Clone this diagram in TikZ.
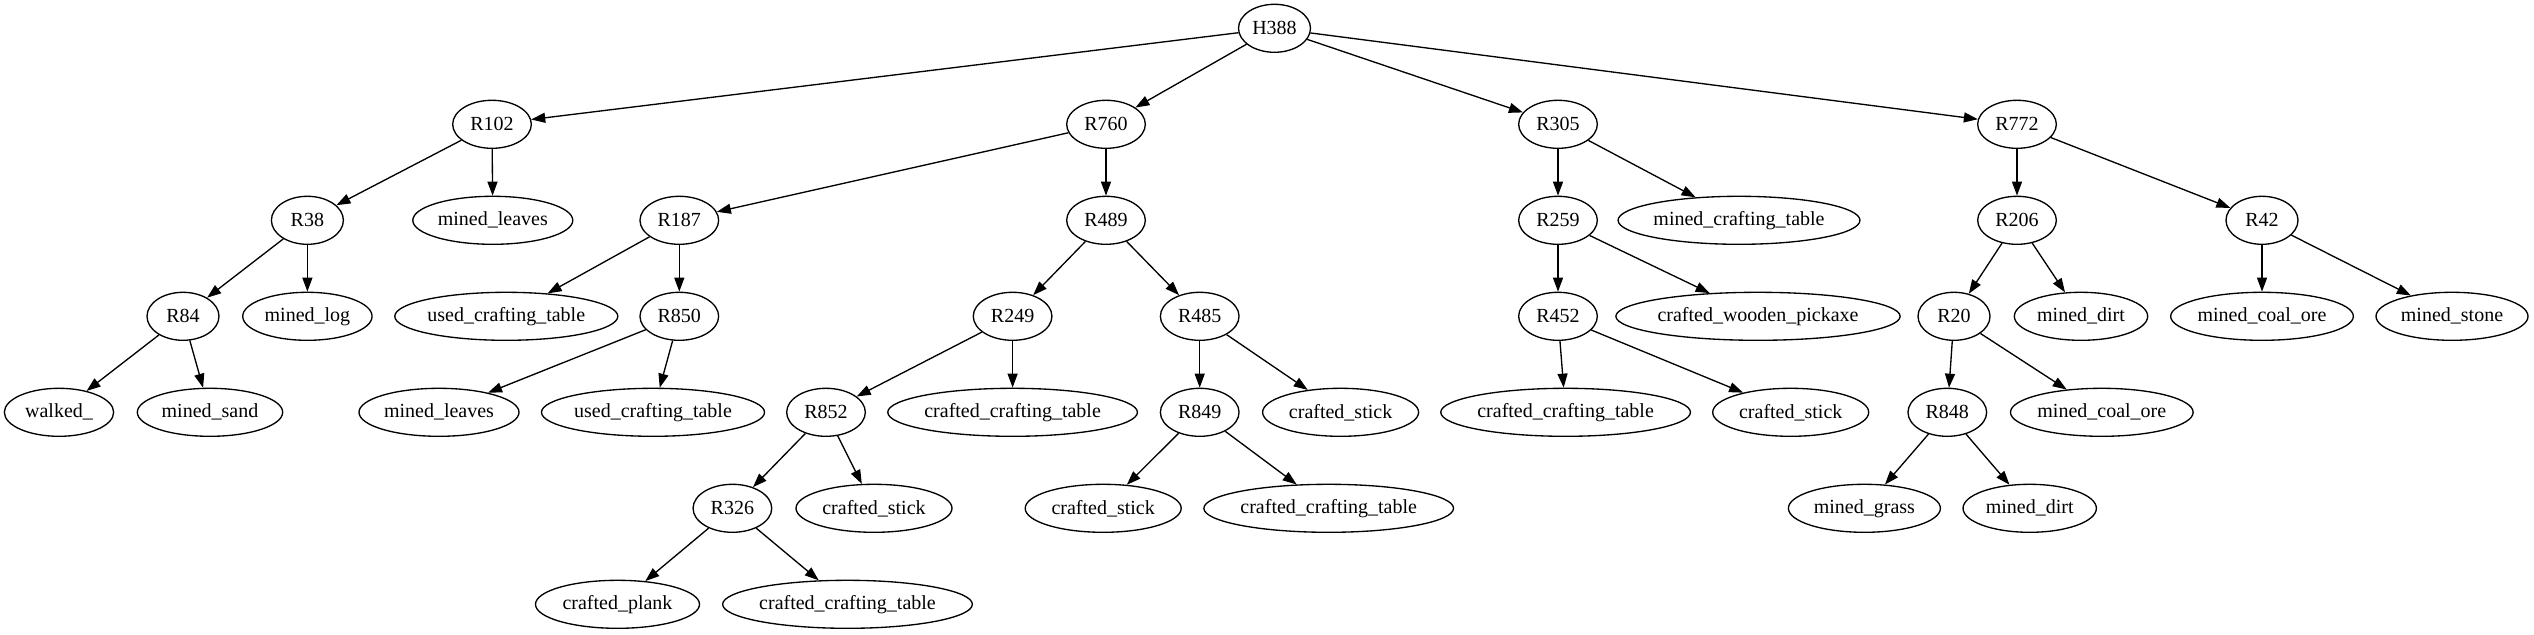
\documentclass[tikz,border=0pt]{standalone}
\usepackage{fontspec}
\setmainfont{Liberation Serif}
\usetikzlibrary{shapes.geometric,arrows.meta}

\begin{document}
\begin{tikzpicture}[
    x=0.75pt, y=-0.75pt,
    every node/.style={font=\fontsize{15}{18}\selectfont},
    rnode/.style={ellipse, draw, line width=1pt, minimum height=36pt, minimum width=#1, inner sep=0pt},
    rnode/.default=54pt,
    link/.style={-{Triangle[length=10.5pt,width=7.5pt]}, line width=1pt}
]

\useasboundingbox (0,0) rectangle (2534,635);

% =========================================================
% Root and first level
% =========================================================

\node[rnode] (H388) at (1274.5,28.3) {H388};

\node[rnode=59pt] (R102) at (492,124.3) {R102};
\node[rnode=59pt] (R760) at (1106,124.3) {R760};
\node[rnode=59pt] (R305) at (1558,124.3) {R305};
\node[rnode=59pt] (R772) at (2017,124.3) {R772};


% =========================================================
% Second level
% =========================================================

\node[rnode] (R38) at (307.4,220.3) {R38};
\node[rnode=120pt] (minedLeavesA) at (492.8,220.3) {mined\_leaves};
\node[rnode=59pt] (R187) at (679.3,220.3) {R187};
\node[rnode=59pt] (R489) at (1106,220.3) {R489};
\node[rnode=59pt] (R259) at (1558,220.3) {R259};
\node[rnode=177pt] (minedTable) at (1739,220.3) {mined\_crafting\_table};
\node[rnode=59pt] (R206) at (2017,220.3) {R206};
\node[rnode] (R42) at (2262,220.3) {R42};


% =========================================================
% Third level
% =========================================================

\node[rnode] (R84) at (183,316.3) {R84};
\node[rnode=97pt] (minedLog) at (307.4,316.3) {mined\_log};
\node[rnode=165pt] (usedTableA) at (506.3,316.3) {used\_crafting\_table};
\node[rnode=59pt] (R850) at (679.3,316.3) {R850};
\node[rnode=59pt] (R249) at (1012.6,316.3) {R249};
\node[rnode=59pt] (R485) at (1199.7,316.3) {R485};
\node[rnode=59pt] (R452) at (1558,316.3) {R452};
\node[rnode=205pt] (craftedPickaxe) at (1758,316.3) {crafted\_wooden\_pickaxe};
\node[rnode] (R20) at (1954,316.3) {R20};
\node[rnode=100pt] (minedDirtA) at (2081,316.3) {mined\_dirt};
\node[rnode=137pt] (minedCoalB) at (2262,316.3) {mined\_coal\_ore};
\node[rnode=114pt] (minedStone) at (2452,316.3) {mined\_stone};


% =========================================================
% Fourth level
% =========================================================

\node[rnode=82pt] (walked) at (59,412.3) {walked\_};
\node[rnode=109pt] (minedSand) at (210,412.3) {mined\_sand};
\node[rnode=120pt] (minedLeavesB) at (439,412.3) {mined\_leaves};
\node[rnode=165pt] (usedTableB) at (653,412.3) {used\_crafting\_table};
\node[rnode=59pt] (R852) at (826,412.3) {R852};
\node[rnode=184.5pt] (craftedTableA) at (1012.6,412.3) {crafted\_crafting\_table};
\node[rnode=59pt] (R849) at (1199.7,412.3) {R849};
\node[rnode=117pt] (craftedStickB) at (1340.6,412.3) {crafted\_stick};
\node[rnode=184.5pt] (craftedTableD) at (1565.6,412.3) {crafted\_crafting\_table};
\node[rnode=117pt] (craftedStickD) at (1790.7,412.3) {crafted\_stick};
\node[rnode=59pt] (R848) at (1947.3,412.3) {R848};
\node[rnode=137pt] (minedCoalA) at (2101.8,412.3) {mined\_coal\_ore};


% =========================================================
% Fifth and sixth level
% =========================================================

\node[rnode=59pt] (R326) at (732.4,508.3) {R326};
\node[rnode=117pt] (craftedStickA) at (874,508.3) {crafted\_stick};
\node[rnode=117pt] (craftedStickC) at (1103.2,508.3) {crafted\_stick};
\node[rnode=184.5pt] (craftedTableC) at (1328.7,508.3) {crafted\_crafting\_table};
\node[rnode=114pt] (minedGrass) at (1864.4,508.3) {mined\_grass};
\node[rnode=100pt] (minedDirtB) at (2029.7,508.3) {mined\_dirt};

\node[rnode=123pt] (craftedPlank) at (617.5,604.3) {crafted\_plank};
\node[rnode=184.5pt] (craftedTableB) at (847.5,604.3) {crafted\_crafting\_table};


% =========================================================
% Edges
% =========================================================

\draw[link] (H388) -- (R102);
\draw[link] (H388) -- (R760);
\draw[link] (H388) -- (R305);
\draw[link] (H388) -- (R772);

\draw[link] (R102) -- (R38);
\draw[link] (R102) -- (minedLeavesA);
\draw[link] (R38) -- (R84);
\draw[link] (R38) -- (minedLog);
\draw[link] (R84) -- (walked);
\draw[link] (R84) -- (minedSand);

\draw[link] (R760) -- (R187);
\draw[link] (R760) -- (R489);
\draw[link] (R187) -- (usedTableA);
\draw[link] (R187) -- (R850);
\draw[link] (R850) -- (minedLeavesB);
\draw[link] (R850) -- (usedTableB);
\draw[link] (R489) -- (R249);
\draw[link] (R489) -- (R485);
\draw[link] (R249) -- (R852);
\draw[link] (R249) -- (craftedTableA);
\draw[link] (R852) -- (R326);
\draw[link] (R852) -- (craftedStickA);
\draw[link] (R326) -- (craftedPlank);
\draw[link] (R326) -- (craftedTableB);
\draw[link] (R485) -- (R849);
\draw[link] (R485) -- (craftedStickB);
\draw[link] (R849) -- (craftedStickC);
\draw[link] (R849) -- (craftedTableC);

\draw[link] (R305) -- (R259);
\draw[link] (R305) -- (minedTable);
\draw[link] (R259) -- (R452);
\draw[link] (R259) -- (craftedPickaxe);
\draw[link] (R452) -- (craftedTableD);
\draw[link] (R452) -- (craftedStickD);

\draw[link] (R772) -- (R206);
\draw[link] (R772) -- (R42);
\draw[link] (R206) -- (R20);
\draw[link] (R206) -- (minedDirtA);
\draw[link] (R20) -- (R848);
\draw[link] (R20) -- (minedCoalA);
\draw[link] (R848) -- (minedGrass);
\draw[link] (R848) -- (minedDirtB);
\draw[link] (R42) -- (minedCoalB);
\draw[link] (R42) -- (minedStone);

\end{tikzpicture}
\end{document}
